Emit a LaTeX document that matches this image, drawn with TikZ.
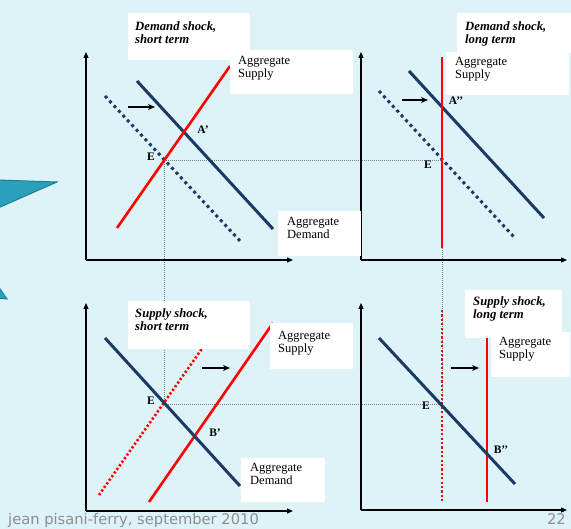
\documentclass[tikz,border=0pt]{standalone}
\usepackage{fontspec}
\setmainfont{Liberation Serif}
\newfontfamily\footfont{DejaVu Sans}
\usetikzlibrary{arrows.meta}
\definecolor{bgcyan}{HTML}{DDF3F8}
\definecolor{navy}{HTML}{1B3A66}
\definecolor{wingteal}{HTML}{2AA0BA}
\definecolor{wingedge}{HTML}{1D7E96}
\definecolor{footgrey}{HTML}{8E8E8E}
\tikzset{
  axis/.style={line width=1.1pt, -{Triangle[length=6pt,width=5pt]}},
  asline/.style={red, line width=2.6pt},
  asold/.style={red, line width=2.6pt, dash pattern=on 2.2pt off 2.2pt},
  adline/.style={navy, line width=3pt},
  adold/.style={navy, line width=3pt, dash pattern=on 3pt off 3.5pt},
  guide/.style={gray, line width=0.6pt, dash pattern=on 1pt off 1pt},
  shiftarrow/.style={line width=1.8pt, -{Stealth[length=7pt,width=6pt]}},
  whitebox/.style={fill=white},
  boxtext/.style={anchor=north west, align=left, inner sep=0pt, font=\fontsize{12.5}{13}\selectfont},
  titletext/.style={boxtext, font=\fontsize{12.7}{13}\selectfont\bfseries\itshape},
  ptlabel/.style={font=\fontsize{11.5}{12}\selectfont\bfseries, inner sep=0pt},
  foottext/.style={inner sep=0pt, text=footgrey, font=\footfont\fontsize{14.7}{15}\selectfont},
}
\begin{document}
\begin{tikzpicture}[x=1pt,y=-1pt]
\useasboundingbox[fill=bgcyan] (0,0) rectangle (571,529);
% decoration at the left edge
\fill[wingteal, draw=wingedge, line width=1pt] (-2,180) -- (57,182) -- (-2,208) -- cycle;
\fill[wingteal, draw=wingedge, line width=1pt] (-2,286) -- (7,299) -- (-2,298) -- cycle;

% equilibrium guides
\coordinate (E1) at (164,160);
\coordinate (E2) at (164,404);
\coordinate (E3) at (442,160);
\coordinate (E4) at (442,404);
\draw[guide] (E1) -- (E3);
\draw[guide] (E1) -- (E2);
\draw[guide] (E2) -- (E4);
\draw[guide] (E3) -- (E4);

% Demand shock, short term
\draw[adold] (105,96) -- (241,242);
\draw[adline] (137,81) -- (273,229);
\draw[asline] (117,228) -- (230,66);
\draw[shiftarrow] (128,107) -- (155,107);
\node[ptlabel] (aone) at (203,130) {A’};
\node[ptlabel] (eone) at (151,157) {E};
\draw[axis] (86,260) -- (86,52);
\draw[axis] (86,260) -- (293,260);

% Demand shock, long term
\draw[adold] (379,91) -- (514,237);
\draw[adline] (409,71) -- (544,218);
\draw[asline] (442,57) -- (442,248);
\draw[shiftarrow] (402,100) -- (428,100);
\node[ptlabel] (atwo) at (456,101) {A’’};
\node[ptlabel] (etwo) at (428,165) {E};
\draw[axis] (361,260) -- (361,52);
\draw[axis] (361,260) -- (567,260);

% Supply shock, short term
\draw[asold] (99,495) -- (206,343);
\draw[asline] (149,502) -- (273,323);
\draw[adline] (105,338) -- (240,486);
\draw[shiftarrow] (202,368) -- (230,368);
\node[ptlabel] (ethree) at (151,401) {E};
\node[ptlabel] (bone) at (215,433) {B’};
\draw[axis] (86,511) -- (86,303);
\draw[axis] (86,511) -- (293,511);

% Supply shock, long term
\draw[asold] (442,310) -- (442,502);
\draw[asline] (487,320) -- (487,502);
\draw[adline] (379,338) -- (515,484);
\draw[shiftarrow] (451,368) -- (479,368);
\node[ptlabel] (efour) at (426,406) {E};
\node[ptlabel] (btwo) at (501,450) {B’’};
\draw[axis] (361,510) -- (361,303);
\draw[axis] (361,510) -- (567,510);

% white label boxes
\fill[whitebox] (128,13) rectangle (250,60);
\fill[whitebox] (230,50) rectangle (353,94);
\fill[whitebox] (278,211) rectangle (361,256);
\fill[whitebox] (457,13) rectangle (571,53);
\fill[whitebox] (446,52) rectangle (569,95);
\fill[whitebox] (128,301) rectangle (250,349);
\fill[whitebox] (270,323) rectangle (353,369);
\fill[whitebox] (241,458) rectangle (325,502);
\fill[whitebox] (465,290) rectangle (562,338);
\fill[whitebox] (491,332) rectangle (570,377);

% texts
\node[titletext] (tone) at (135,21) {Demand shock,\\short term};
\node[boxtext] (asone) at (238,56.4) {Aggregate\\Supply};
\node[boxtext] (adone) at (287,217.4) {Aggregate\\Demand};
\node[titletext] (ttwo) at (465,21) {Demand shock,\\long term};
\node[boxtext] (astwo) at (455,57.4) {Aggregate\\Supply};
\node[titletext] (tthree) at (135,308) {Supply shock,\\short term};
\node[boxtext] (asthree) at (278,331) {Aggregate\\Supply};
\node[boxtext] (adthree) at (250,463.4) {Aggregate\\Demand};
\node[titletext] (tfour) at (473,296) {Supply shock,\\long term};
\node[boxtext] (asfour) at (499,337.4) {Aggregate\\Supply};

% footer
\node[foottext, anchor=base west] (foot) at (8,525) {jean pisani-ferry, september 2010};
\node[foottext, anchor=base east] (page) at (566,525) {22};
\end{tikzpicture}
\end{document}
